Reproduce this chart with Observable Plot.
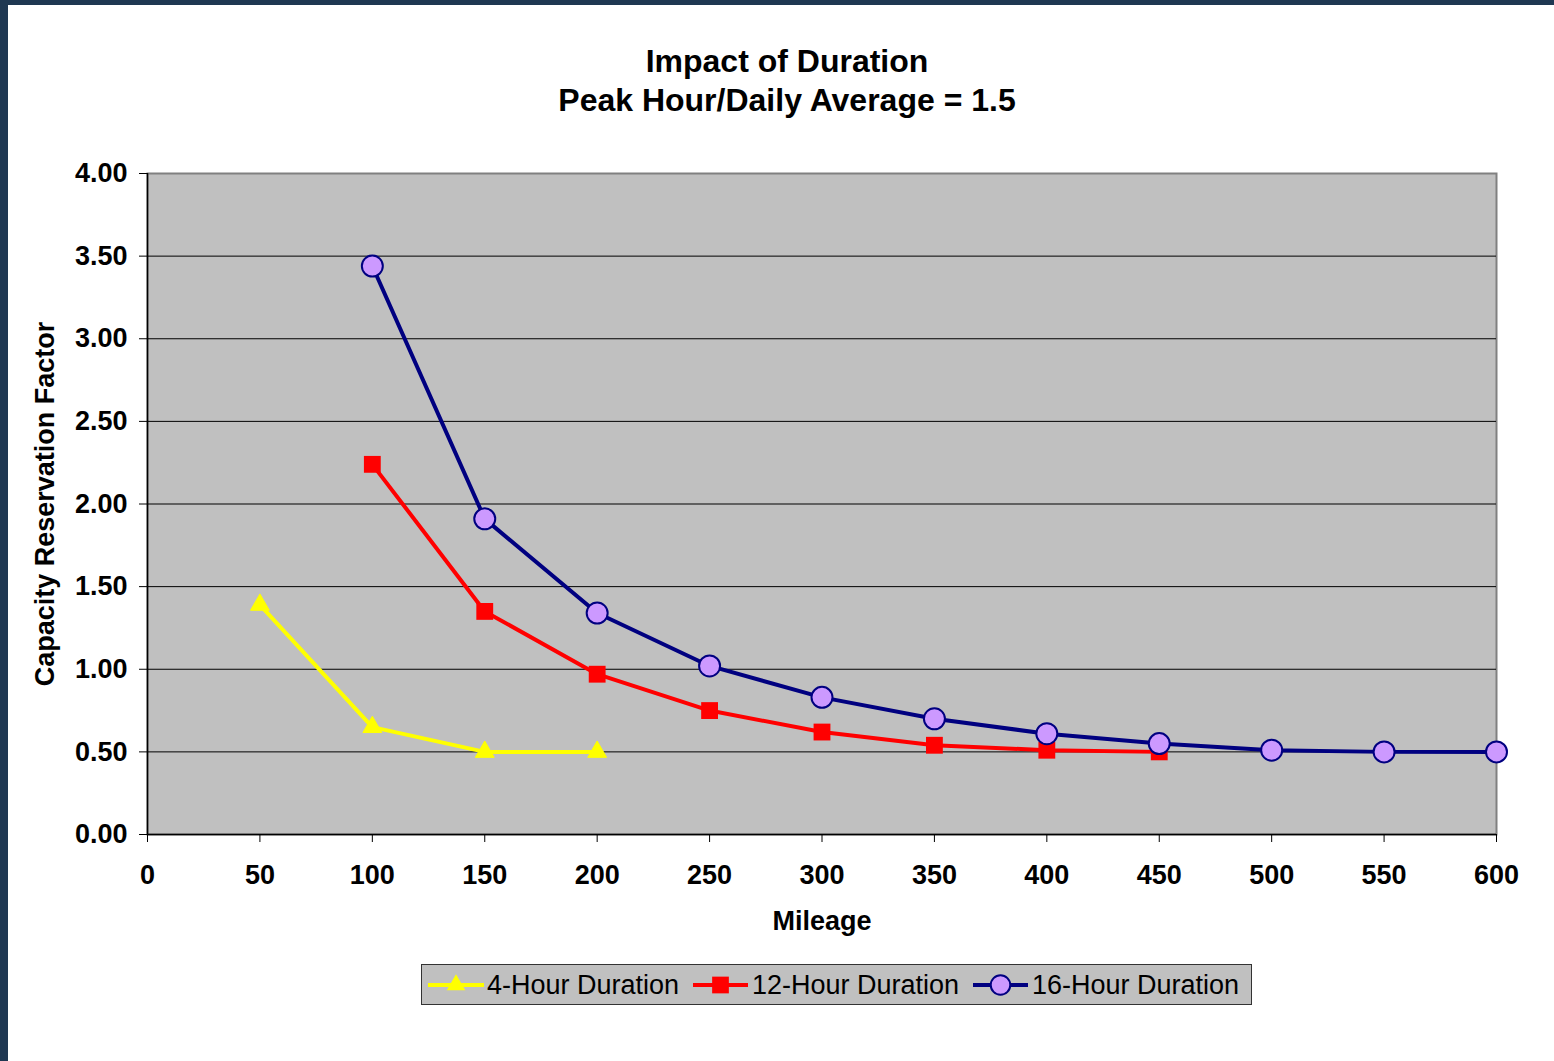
<!DOCTYPE html>
<html><head><meta charset="utf-8">
<script src="https://cdn.jsdelivr.net/npm/d3@7"></script>
<script src="https://cdn.jsdelivr.net/npm/@observablehq/plot@0.6"></script>
<style>
body{margin:0;background:#fff;font-family:"Liberation Sans",Arial,sans-serif;}
#page{position:relative;width:1554px;height:1061px;overflow:hidden;background:#fff;}
#bl{position:absolute;left:0;top:0;width:8px;height:1061px;background:#1f3852;}
#bt{position:absolute;left:0;top:0;width:1554px;height:5px;background:#1f3852;}
#title{position:absolute;left:14px;width:1546px;top:42px;text-align:center;font-weight:bold;font-size:32px;line-height:39px;color:#000;}
#chart{position:absolute;left:8px;top:140px;}
#legend{position:absolute;left:421px;top:964px;}
</style></head>
<body><div id="page">
<div id="bl"></div><div id="bt"></div>
<div id="title">Impact of Duration<br>Peak Hour/Daily Average = 1.5</div>
<div id="chart"></div>
<div id="legend"></div>
</div>
<script>
const mileage4 = [50, 100, 150, 200];
const factor4 = [1.39, 0.65, 0.50, 0.50];
const mileage12 = [100, 150, 200, 250, 300, 350, 400, 450];
const factor12 = [2.24, 1.35, 0.97, 0.75, 0.62, 0.54, 0.51, 0.50];
const mileage16 = [100, 150, 200, 250, 300, 350, 400, 450, 500, 550, 600];
const factor16 = [3.44, 1.91, 1.34, 1.02, 0.83, 0.70, 0.61, 0.55, 0.51, 0.50, 0.50];
const seriesNames = ["4-Hour Duration", "12-Hour Duration", "16-Hour Duration"];
const xTicks = [0, 50, 100, 150, 200, 250, 300, 350, 400, 450, 500, 550, 600];
const yTicks = [0, 0.5, 1, 1.5, 2, 2.5, 3, 3.5, 4];
const gridTicks = [0.5, 1, 1.5, 2, 2.5, 3, 3.5];

const s4 = mileage4.map((m, i) => ({mileage: m, factor: factor4[i]}));
const s12 = mileage12.map((m, i) => ({mileage: m, factor: factor12[i]}));
const s16 = mileage16.map((m, i) => ({mileage: m, factor: factor16[i]}));

const chart = Plot.plot({
  width: 1546, height: 805,
  marginLeft: 139, marginRight: 58, marginTop: 33, marginBottom: 111,
  x: {domain: [0, 600], ticks: xTicks},
  y: {domain: [0, 4], ticks: yTicks},
  style: {fontFamily: "'Liberation Sans', Arial, sans-serif", fontWeight: "bold", fontSize: "27px", color: "#000", background: "transparent", overflow: "visible"},
  marks: [
    Plot.frame({fill: "#c0c0c0", stroke: "#808080", strokeWidth: 2}),
    Plot.gridY(gridTicks, {stroke: "#000", strokeOpacity: 1, strokeWidth: 1}),
    Plot.axisY(yTicks, {tickFormat: d3.format(".2f"), tickSize: 8, tickPadding: 12, stroke: "#000",
      label: "Capacity Reservation Factor", labelAnchor: "center", labelOffset: 113, labelArrow: false}),
    Plot.axisX(xTicks, {tickFormat: d3.format("d"), tickSize: 8, tickPadding: 22, stroke: "#000",
      label: "Mileage", labelAnchor: "center", labelOffset: 95, labelArrow: false}),
    Plot.ruleX([0], {stroke: "#000", strokeWidth: 1.5}),
    Plot.ruleY([0], {stroke: "#000", strokeWidth: 1.5}),
    Plot.line(s4, {x: "mileage", y: "factor", stroke: "#ffff00", strokeWidth: 4}),
    Plot.line(s12, {x: "mileage", y: "factor", stroke: "#ff0000", strokeWidth: 4}),
    Plot.line(s16, {x: "mileage", y: "factor", stroke: "#000080", strokeWidth: 4}),
    Plot.dot(s4, {x: "mileage", y: "factor", symbol: "triangle", r: 7, fill: "#ffff00", stroke: "#ffff00", strokeWidth: 1}),
    Plot.dot(s12, {x: "mileage", y: "factor", symbol: "square", r: 9.5, fill: "#ff0000", stroke: "none"}),
    Plot.dot(s16, {x: "mileage", y: "factor", symbol: "circle", r: 10.5, fill: "#cc99ff", stroke: "#000080", strokeWidth: 2})
  ]
});
document.getElementById("chart").appendChild(chart);

// legend
const lg = d3.select("#legend").append("svg").attr("width", 832).attr("height", 42)
  .style("font-family", "'Liberation Sans', Arial, sans-serif");
lg.append("rect").attr("x", 0.5).attr("y", 0.5).attr("width", 830).attr("height", 40)
  .attr("fill", "#c0c0c0").attr("stroke", "#333").attr("stroke-width", 1);
const items = [
  {name: seriesNames[0], color: "#ffff00", x0: 7, x1: 63, text: 66, sym: d3.symbolTriangle, size: 150, fill: "#ffff00", st: "none"},
  {name: seriesNames[1], color: "#ff0000", x0: 272, x1: 327, text: 331, sym: d3.symbolSquare, size: 280, fill: "#ff0000", st: "none"},
  {name: seriesNames[2], color: "#000080", x0: 552, x1: 607, text: 611, sym: d3.symbolCircle, size: 300, fill: "#cc99ff", st: "#000080"}
];
for (const it of items) {
  lg.append("line").attr("x1", it.x0).attr("x2", it.x1).attr("y1", 21).attr("y2", 21)
    .attr("stroke", it.color).attr("stroke-width", 4);
  lg.append("path").attr("d", d3.symbol(it.sym, it.size)())
    .attr("transform", `translate(${(it.x0 + it.x1) / 2},21)`)
    .attr("fill", it.fill).attr("stroke", it.st).attr("stroke-width", 2);
  lg.append("text").attr("x", it.text).attr("y", 30).attr("font-size", 27).attr("fill", "#000").text(it.name);
}
</script>
</body></html>
